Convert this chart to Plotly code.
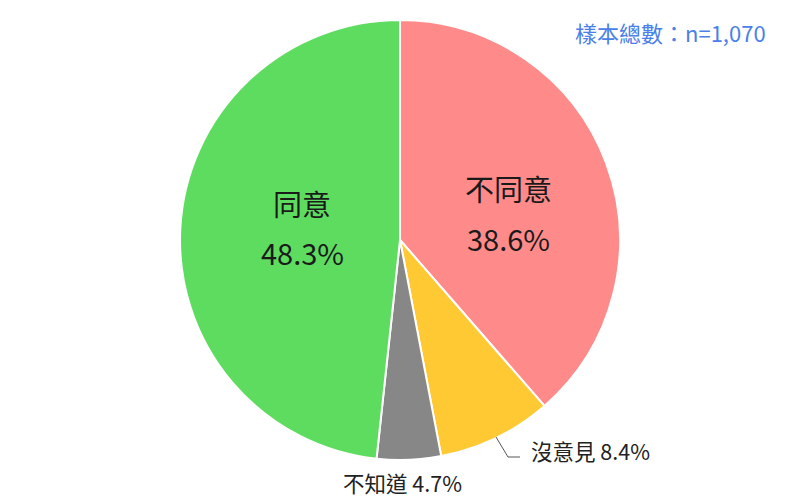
import plotly.graph_objects as go

# 民調結果（順時針，從 12 點鐘開始）
labels = ["不同意", "沒意見", "不知道", "同意"]
values = [38.6, 8.4, 4.7, 48.3]
colors = ["#FF8A8A", "#FFC934", "#878787", "#5EDC60"]
sample_note = "樣本總數：n=1,070"

W, H = 800, 497
FONT = "Noto Sans CJK TC"
OFF = 8  # 頁面預設 body margin


def px_x(x):
    return (x - OFF) / W


def px_y(y):
    return 1 - (y - OFF) / H


fig = go.Figure(go.Pie(
    labels=labels,
    values=values,
    marker=dict(colors=colors, line=dict(color="white", width=2)),
    sort=False,
    direction="clockwise",
    rotation=0,
    textinfo="none",
    hoverinfo="label+percent",
    domain=dict(x=[px_x(180), px_x(620)], y=[px_y(460), px_y(20)]),
    showlegend=False,
))

ann = []
# 大區塊：類別 + 百分比，兩行
inside_pos = {"同意": (302, 203, 252), "不同意": (508, 188, 238)}
big_font = dict(size=29, color="#1a1a1a", family=FONT)
for lab, val in zip(labels, values):
    if lab in inside_pos:
        x, y1, y2 = inside_pos[lab]
        ann.append(dict(x=px_x(x), y=px_y(y1), text=lab, xanchor="center", font=big_font))
        ann.append(dict(x=px_x(x), y=px_y(y2), text=f"{val}%", xanchor="center", font=big_font))

# 小區塊：外部標籤
v = dict(zip(labels, values))
small_font = dict(size=21.5, color="#222", family=FONT)
ann.append(dict(x=px_x(529), y=px_y(450), xanchor="left",
                text=f"沒意見 {v['沒意見']}%", font=small_font))
ann.append(dict(x=px_x(402), y=px_y(482), xanchor="center",
                text=f"不知道 {v['不知道']}%", font=small_font))
ann.append(dict(x=px_x(768), y=px_y(32), xanchor="right", text=sample_note,
                font=dict(size=22, color="#4A80E8", family=FONT)))
for a in ann:
    a.update(xref="paper", yref="paper", yanchor="middle", showarrow=False)

fig.update_layout(
    width=W, height=H,
    margin=dict(l=0, r=0, t=0, b=0),
    paper_bgcolor="white",
    plot_bgcolor="white",
    annotations=ann,
    shapes=[dict(type="path", xref="paper", yref="paper",
                 path=f"M {px_x(496)} {px_y(437)} L {px_x(508)} {px_y(457)} L {px_x(520)} {px_y(457)}",
                 line=dict(color="#555", width=1))],
)

fig.write_html("out.html")
